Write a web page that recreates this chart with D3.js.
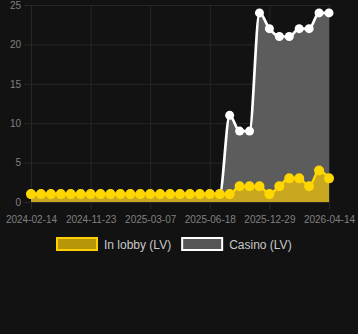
<!DOCTYPE html>
<html>
<head>
<meta charset="utf-8">
<script src="https://cdn.jsdelivr.net/npm/d3@7"></script>
<style>
  body { margin: 0; background: #121212; }
  svg { display: block; font-family: Arial, "Liberation Sans", sans-serif; }
</style>
</head>
<body>
<svg id="chart"></svg>
<script>
// values, one per sample (31 samples)
const inLobby = [1, 1, 1, 1, 1, 1, 1, 1, 1, 1, 1, 1, 1, 1, 1, 1, 1, 1, 1, 1, 1,
  2, 2, 2, 1, 2, 3, 3, 2, 4, 3];
const casino = [1, 1, 1, 1, 1, 1, 1, 1, 1, 1, 1, 1, 1, 1, 1, 1, 1, 1, 1, 1, 11,
  9, 9, 24, 22, 21, 21, 22, 22, 24, 24];
const tickIndex = [0, 6, 12, 18, 24, 30];
const tickLabels = ['2024-02-14', '2024-11-23', '2025-03-07', '2025-06-18', '2025-12-29', '2026-04-14'];
const yTicks = [0, 5, 10, 15, 20, 25];
const seriesNames = ['In lobby (LV)', 'Casino (LV)'];

const width = 358;
const height = 334;
const margin = { top: 5, right: 29, bottom: 132, left: 31 };
const gridColor = '#272727';
const labelColor = '#808080';

const svg = d3.select('#chart').attr('width', width).attr('height', height);

const x = d3.scaleLinear()
  .domain([0, casino.length - 1])
  .range([margin.left, width - margin.right]);
const y = d3.scaleLinear()
  .domain([0, 25])
  .range([height - margin.bottom, margin.top]);

// horizontal grid + y labels
const yAxis = d3.axisLeft(y)
  .tickValues(yTicks)
  .tickSize(-(width - margin.right - margin.left) - 7)
  .tickPadding(3);
svg.append('g')
  .attr('transform', `translate(${margin.left - 7},0)`)
  .call(yAxis)
  .call(g => g.select('.domain').remove())
  .call(g => g.selectAll('.tick line').attr('stroke', gridColor))
  .call(g => g.selectAll('.tick text')
    .attr('fill', labelColor).attr('font-size', 10)
    .attr('font-family', 'Arial, "Liberation Sans", sans-serif'));

// vertical grid + x labels
const xAxis = d3.axisBottom(x)
  .tickValues(tickIndex)
  .tickFormat((d, i) => tickLabels[i])
  .tickSize(-(y(0) - margin.top) - 7)
  .tickPadding(7);
svg.append('g')
  .attr('transform', `translate(0,${y(0) + 7})`)
  .call(xAxis)
  .call(g => g.select('.domain').remove())
  .call(g => g.selectAll('.tick line').attr('stroke', gridColor))
  .call(g => g.selectAll('.tick text')
    .attr('fill', labelColor).attr('font-size', 10)
    .attr('font-family', 'Arial, "Liberation Sans", sans-serif'));

const curve = d3.curveMonotoneX;
const area = d3.area().x((d, i) => x(i)).y0(y(0)).y1(d => y(d)).curve(curve);
const line = d3.line().x((d, i) => x(i)).y(d => y(d)).curve(curve);

function drawSeries(values, fill, stroke, lineW, r) {
  const g = svg.append('g');
  g.append('path').attr('d', area(values)).attr('fill', fill);
  g.append('path').attr('d', line(values))
    .attr('fill', 'none').attr('stroke', stroke).attr('stroke-width', lineW);
  g.selectAll('circle').data(values).join('circle')
    .attr('cx', (d, i) => x(i))
    .attr('cy', d => y(d))
    .attr('r', r)
    .attr('fill', stroke);
}

drawSeries(casino, '#5c5c5c', '#ffffff', 2.7, 4.5);
drawSeries(inLobby, '#c9a71f', '#ffd700', 2.5, 5);

// legend
const legendStyles = [
  { fill: '#b8960c', stroke: '#ffd000' },
  { fill: '#555555', stroke: '#ffffff' },
];
const legend = svg.append('g');
let lx = 0;
seriesNames.forEach((name, i) => {
  const item = legend.append('g').attr('transform', `translate(${lx},0)`);
  item.append('rect')
    .attr('x', 1).attr('y', 1).attr('width', 40).attr('height', 12)
    .attr('fill', legendStyles[i].fill)
    .attr('stroke', legendStyles[i].stroke).attr('stroke-width', 2);
  const t = item.append('text')
    .attr('x', 48).attr('y', 11.5)
    .attr('fill', '#c8c8c8').attr('font-size', 12)
    .text(name);
  lx += 48 + t.node().getComputedTextLength() + 10;
});
const legendW = lx - 10;
legend.attr('transform', `translate(${Math.round(174 - legendW / 2)},237)`);
</script>
</body>
</html>
